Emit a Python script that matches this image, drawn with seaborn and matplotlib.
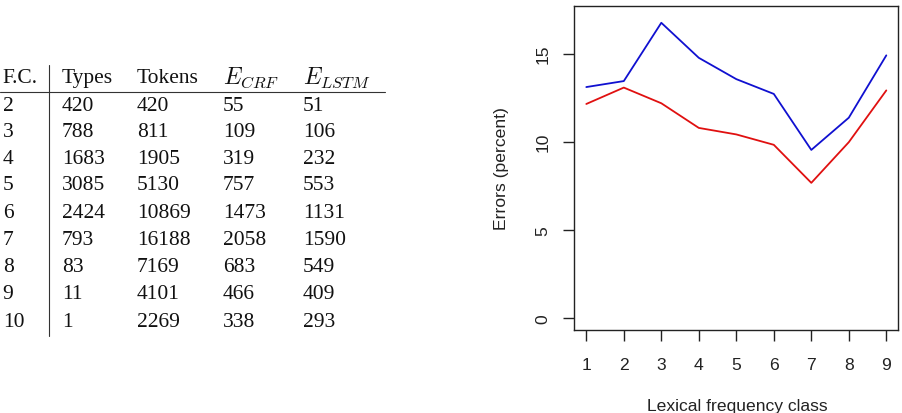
import matplotlib
matplotlib.use("Agg")
import matplotlib.pyplot as plt
import seaborn as sns
import pandas as pd
import numpy as np

# --- datos de la tabla (clase de frecuencia) ---
fc = ["2", "3", "4", "5", "6", "7", "8", "9", "10"]
types = ["420", "788", "1683", "3085", "2424", "793", "83", "11", "1"]
tokens = ["420", "811", "1905", "5130", "10869", "16188", "7169", "4101", "2269"]
e_crf = ["55", "109", "319", "757", "1473", "2058", "683", "466", "338"]
e_lstm = ["51", "106", "232", "553", "1131", "1590", "549", "409", "293"]
headers = ["F.C.", "Types", "Tokens", r"$E_{CRF}$", r"$E_{LSTM}$"]

# --- datos del grafico (errores en porcentaje) ---
clases = [1, 2, 3, 4, 5, 6, 7, 8, 9]
err_crf = [13.10, 13.44, 16.75, 14.76, 13.55, 12.71, 9.53, 11.36, 14.90]
err_lstm = [12.14, 13.07, 12.18, 10.78, 10.41, 9.82, 7.66, 9.97, 12.91]

sns.set_style("white")
plt.rcParams["mathtext.fontset"] = "cm"
plt.rcParams["font.family"] = ["Liberation Sans", "DejaVu Sans"]

df = pd.DataFrame({
    "clase": clases * 2,
    "error": err_crf + err_lstm,
    "modelo": ["CRF"] * len(clases) + ["LSTM"] * len(clases),
})

fig = plt.figure(figsize=(9.03, 4.14), dpi=100)
ax = fig.add_axes([0.636, 0.2012, 0.3588, 0.7826])

sns.lineplot(data=df, x="clase", y="error", hue="modelo",
             palette={"CRF": "#1010d0", "LSTM": "#e01010"},
             linewidth=1.3, legend=False, ax=ax)

ax.set_xlim(0.68, 9.32)
ax.set_ylim(-0.68, 17.72)
ax.set_xticks(clases)
ax.set_yticks([0, 5, 10, 15])
ax.set_yticklabels(["0", "5", "10", "15"], rotation=90, va="center")
ax.tick_params(axis="both", direction="out", length=8, width=1, color="#222222",
               labelsize=12.6, colors="#222222", bottom=True, left=True)
ax.tick_params(axis="x", pad=12)
ax.tick_params(axis="y", pad=9)
for s in ax.spines.values():
    s.set_visible(True)
    s.set_color("#222222")
    s.set_linewidth(1.0)

ax.set_xlabel("Lexical frequency class", fontsize=12.6, color="#222222")
ax.set_ylabel("Errors (percent)", fontsize=12.6, color="#222222")
ax.xaxis.set_label_coords(0.502, -0.212)
ax.yaxis.set_label_coords(-0.203, 0.5)

# --- tabla a la izquierda ---
W, H = 903.0, 414.0
col_x = [2.7, 61.7, 136.7, 223.0, 303.0]
fila_y = [78.3, 106.7, 132.7, 159.3, 186.0, 213.3, 241.0, 267.7, 295.0, 322.3]
serif = ["Liberation Serif", "DejaVu Serif"]

for j, (x, h) in enumerate(zip(col_x, headers)):
    fig.text(x / W, 1 - fila_y[0] / H, h, family=serif,
             fontsize=17 if j >= 3 else 15.5,
             ha="left", va="center", color="#111111")

columnas = [fc, types, tokens, e_crf, e_lstm]
for i in range(len(fc)):
    for x, col in zip(col_x, columnas):
        fig.text(x / W, 1 - fila_y[i + 1] / H, col[i], family=serif,
                 fontsize=15.5, ha="left", va="center", color="#111111")

# reglas de la tabla
fig.add_artist(plt.Line2D([0, 385 / W], [1 - 92.7 / H, 1 - 92.7 / H],
                          color="#333333", linewidth=0.8))
fig.add_artist(plt.Line2D([49.3 / W, 49.3 / W], [1 - 66 / H, 1 - 336.7 / H],
                          color="#333333", linewidth=0.8))

fig.savefig("out.png", dpi=100)
